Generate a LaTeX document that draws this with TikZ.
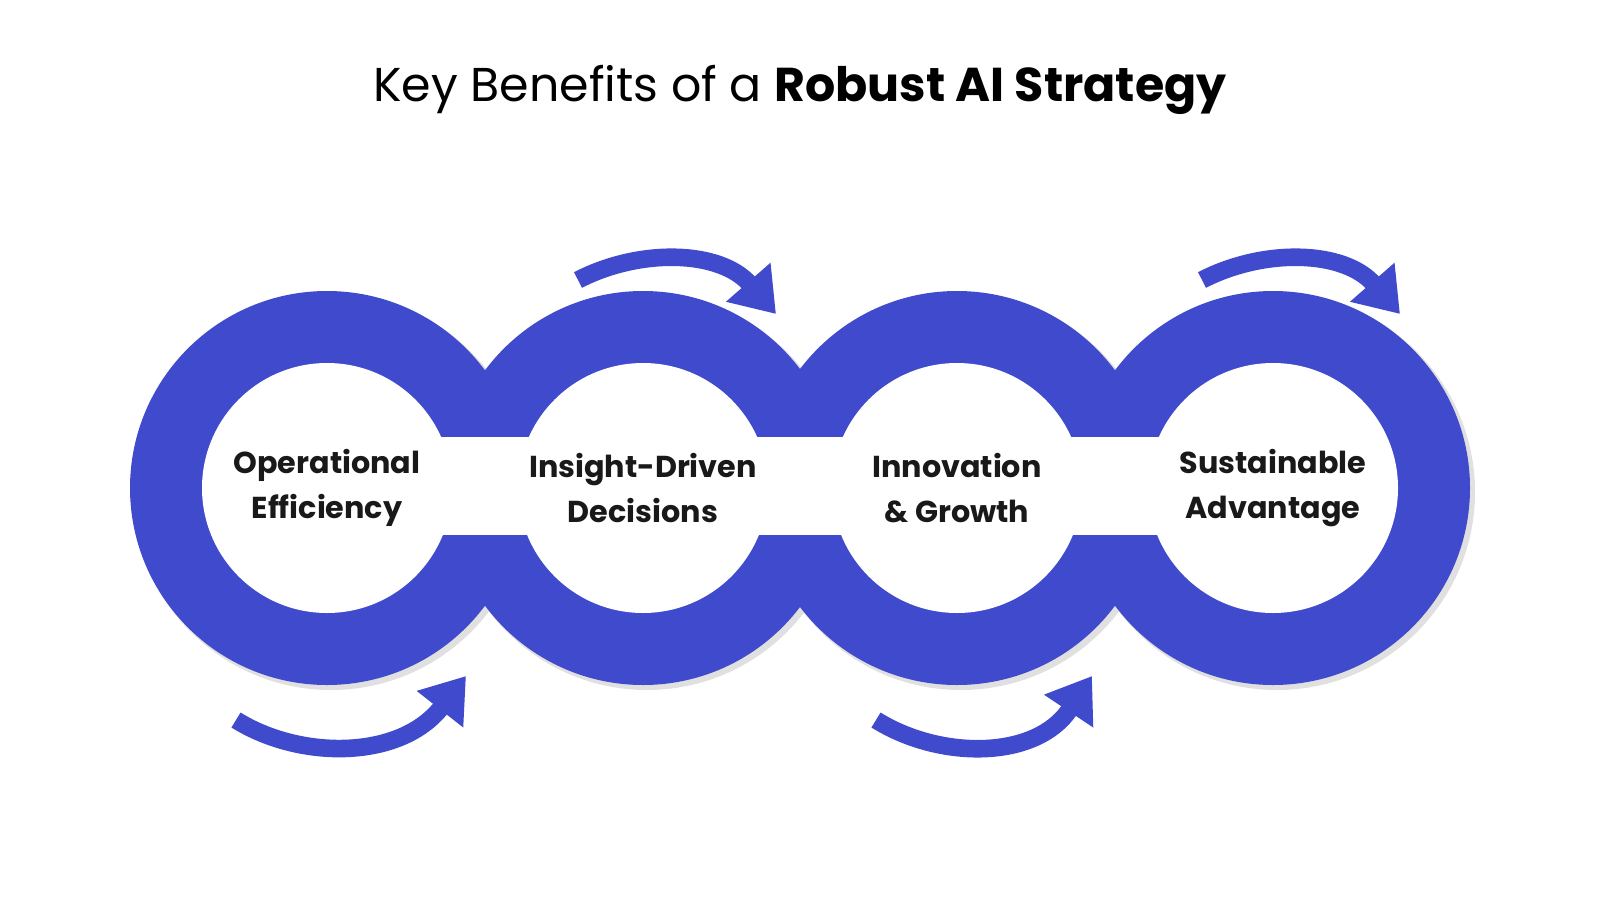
\documentclass[tikz,border=0pt]{standalone}
\usepackage{fontspec}
\setmainfont{Poppins}
\usetikzlibrary{arrows.meta,positioning}
\definecolor{ringblue}{HTML}{3F4ACC}
\tikzset{
  ring/.style={fill=ringblue},
  hole/.style={fill=white},
  label/.style={font=\fontsize{8.6}{13}\selectfont\bfseries, align=center, text=black!90},
  turn/.style={ringblue, line width=5pt, -{Triangle[length=12pt,width=16pt]}}
}
\begin{document}
\begin{tikzpicture}[x=0.01cm,y=-0.01cm]
  \useasboundingbox (0,0) rectangle (1600,900);
  % title
  \node (title) at (800,90) {\fontsize{13.5}{16}\selectfont Key Benefits of a \textbf{Robust AI Strategy}};
  % rings
  \foreach \cx/\nm in {327/a,643/b,957/c,1273/d}{
    \fill[black!12] (\cx+4,492) circle (198);
  }
  \foreach \cx/\nm in {327/a,643/b,957/c,1273/d}{
    \fill[ring] (\cx,488) circle (197);
    \coordinate (\nm) at (\cx,488);
  }
  \foreach \cx in {327,643,957}{
    \fill[hole] (\cx+100,437) rectangle (\cx+216,535);
  }
  \foreach \cx in {327,643,957,1273}{
    \fill[hole] (\cx,488) circle (125);
  }
  % labels
  \node[label] (l1) at (a) {Operational\\Efficiency};
  \node[label] (l2) at (b) {Insight-Driven\\Decisions};
  \node[label] (l3) at (c) {Innovation\\\& Growth};
  \node[label] (l4) at (d) {Sustainable\\Advantage};
  % turning arrows
  \coordinate (t1s) at (578,280); \coordinate (t1e) at (776,314);
  \coordinate (t2s) at (1202,280); \coordinate (t2e) at (1400,314);
  \coordinate (b1s) at (236,720); \coordinate (b1e) at (466,676);
  \coordinate (b2s) at (876,720); \coordinate (b2e) at (1092,676);
  \draw[turn] (t1s) .. controls (640,248) and (720,250) .. (t1e);
  \draw[turn] (t2s) .. controls (1264,248) and (1344,250) .. (t2e);
  \draw[turn] (b1s) .. controls (300,760) and (400,760) .. (b1e);
  \draw[turn] (b2s) .. controls (940,760) and (1036,760) .. (b2e);
\end{tikzpicture}
\end{document}
